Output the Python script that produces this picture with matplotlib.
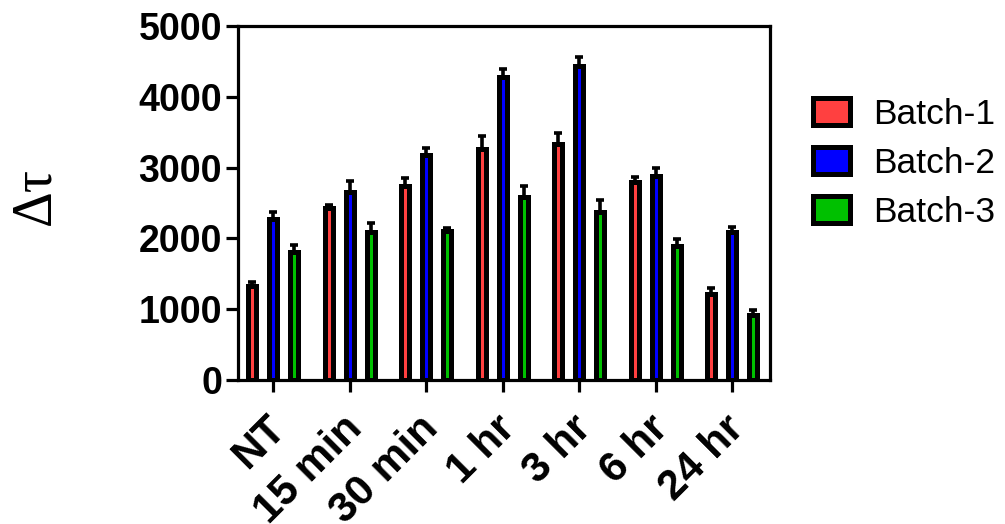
import numpy as np
import matplotlib
matplotlib.use("Agg")
import matplotlib.pyplot as plt
import matplotlib.transforms as mtrans

# data
groups = ["NT", "15 min", "30 min", "1 hr", "3 hr", "6 hr", "24 hr"]
series = ["Batch-1", "Batch-2", "Batch-3"]
batch1 = [1330, 2430, 2740, 3270, 3340, 2800, 1220]
batch2 = [2280, 2650, 3180, 4280, 4440, 2880, 2090]
batch3 = [1810, 2090, 2100, 2590, 2370, 1890, 920]
err1 = [50, 40, 110, 180, 150, 70, 80]
err2 = [100, 160, 100, 120, 130, 110, 70]
err3 = [90, 130, 50, 150, 180, 100, 70]
yticks = [0, 1000, 2000, 3000, 4000, 5000]

colors = ["#FF4040", "#0000FF", "#00C000"]

plt.rcParams["font.family"] = ["Liberation Sans", "DejaVu Sans"]

fig = plt.figure(figsize=(10.05, 5.24), dpi=100)
ax = fig.add_axes([0.2368, 0.275, 0.529, 0.675])

x = np.arange(len(groups))
offs = [-0.274, 0.0, 0.274]
w = 0.105
for vals, errs, off, col, name in zip([batch1, batch2, batch3], [err1, err2, err3], offs, colors, series):
    ax.bar(x + off, vals, width=w, color=col, edgecolor="black", linewidth=3.6, label=name, zorder=2)
    ax.errorbar(x + off, vals, yerr=[np.zeros(len(errs)), errs], fmt="none",
                ecolor="black", elinewidth=2.6, capsize=2.6, capthick=2.6, zorder=3)

ax.set_xlim(-0.46, 6.49)
ax.set_ylim(0, 5000)
ax.set_yticks(yticks)
ax.set_yticklabels([str(t) for t in yticks], fontsize=27, fontweight="bold")
ax.set_xticks(x)
ax.set_xticklabels(groups, fontsize=30.5, fontweight="bold", rotation=45,
                   ha="right", rotation_mode="anchor")
for s in ax.spines.values():
    s.set_linewidth(2.3)
ax.tick_params(axis="both", direction="out", length=8.5, width=2.3, pad=3)
ax.tick_params(axis="x", pad=12)
# nudge the slanted labels left a little, like the original
shift = mtrans.ScaledTranslation(-0.08, 0, fig.dpi_scale_trans)
for lab in ax.get_xticklabels():
    lab.set_transform(lab.get_transform() + shift)

ax.set_ylabel("Δτ", fontsize=40, family=["Liberation Serif", "DejaVu Serif"])
ax.yaxis.set_label_coords(-0.333, 0.521)

ax.legend(loc="upper left", bbox_to_anchor=(0.795, 0.84), bbox_transform=fig.transFigure,
          frameon=False, fontsize=25.5, handlelength=1.05, handleheight=0.8,
          handletextpad=0.65, labelspacing=0.45, borderaxespad=0)

plt.savefig("out.png", dpi=100)
